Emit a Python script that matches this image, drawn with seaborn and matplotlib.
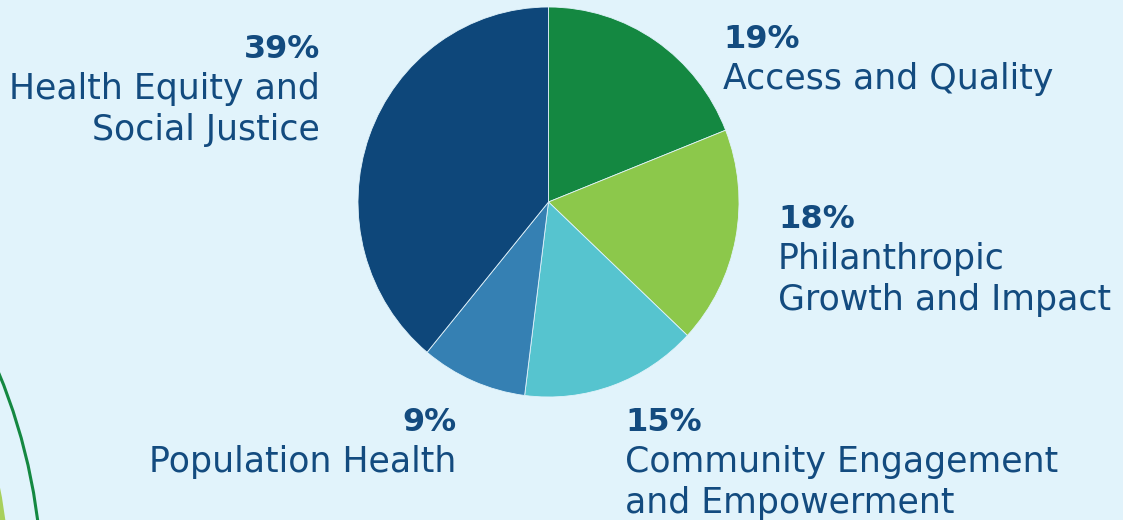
import matplotlib
matplotlib.use("Agg")
import matplotlib.pyplot as plt
import seaborn as sns
from matplotlib.patches import Circle

# ---- data ----
categories = ["Access and Quality", "Philanthropic Growth and Impact",
              "Community Engagement and Empowerment", "Population Health",
              "Health Equity and Social Justice"]
shares = [19, 18, 15, 9, 39]
label_lines = [["Access and Quality"],
               ["Philanthropic", "Growth and Impact"],
               ["Community Engagement", "and Empowerment"],
               ["Population Health"],
               ["Health Equity and", "Social Justice"]]
slice_colors = ["#148841", "#8cc84b", "#56c4cf", "#3580b3", "#0e477a"]

BG = "#e1f3fb"
TXT = "#134b7f"

sns.set_theme(style="white", rc={"figure.facecolor": BG, "axes.facecolor": BG})
plt.rcParams["font.family"] = ["DejaVu Sans"]

W, H = 1123, 520
fig = plt.figure(figsize=(W / 100, H / 100), dpi=100)

# decorative background axes (pixel coordinates)
bg = fig.add_axes([0, 0, 1, 1], zorder=0)
bg.set_xlim(0, W)
bg.set_ylim(H, 0)
bg.axis("off")
bg.add_patch(Circle((-534, 591), 544, facecolor="#a8d05c", edgecolor="none"))
bg.add_patch(Circle((-530, 591), 572, facecolor="none", edgecolor="#148841", lw=2.2))

# pie axes (slightly taller than wide, as in the reference)
cx, cy, rx, ry = 548.5, 202, 190.5, 195
ax = fig.add_axes([(cx - rx) / W, (H - cy - ry) / H, 2 * rx / W, 2 * ry / H], zorder=1)
palette = sns.color_palette(slice_colors)
ax.pie(shares, colors=palette, startangle=90, counterclock=False, radius=1,
       wedgeprops=dict(edgecolor=BG, linewidth=0.6))
ax.set_aspect("auto")
ax.set_xlim(-1, 1)
ax.set_ylim(-1, 1)
ax.axis("off")

# label layout: (x, baseline of percent, alignment)
label_pos = [(723, 48, "left"), (778, 228, "left"), (625, 431, "left"),
             (456, 431, "right"), (320, 58, "right")]
line_gap = 41
for share, lines, (x, y, ha) in zip(shares, label_lines, label_pos):
    fig.text(x / W, 1 - y / H, f"{share}%", ha=ha, va="baseline",
             fontsize=23, fontweight="heavy", color=TXT)
    for i, ln in enumerate(lines):
        yy = y + line_gap * (i + 1)
        fig.text(x / W, 1 - yy / H, ln, ha=ha, va="baseline",
                 fontsize=25, color=TXT)

fig.savefig("out.png", dpi=100, facecolor=BG)
